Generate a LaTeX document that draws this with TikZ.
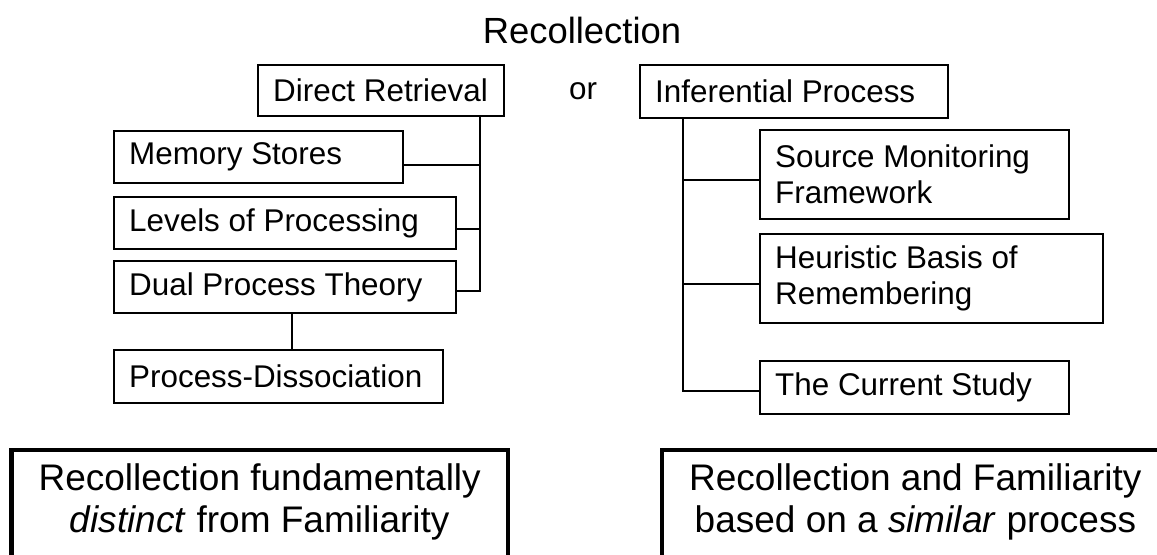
\documentclass[tikz,border=0pt]{standalone}
\usepackage{fontspec}
\setmainfont{Liberation Sans}
\newcommand\boxfont{\fontsize{15.7}{18}\selectfont\hyphenpenalty=10000\relax}
\tikzset{
  box/.style={draw, line width=1.2pt, anchor=north west, align=flush left, inner xsep=7.5pt, inner ysep=0pt, font=\boxfont},
  bigbox/.style={draw, line width=2.2pt, align=center, inner xsep=13.5pt, inner ysep=6.5pt, text depth=12pt, font=\fontsize{18.5}{21}\selectfont},
  link/.style={line width=1pt}
}
\begin{document}
\begin{tikzpicture}[x=0.5pt, y=-0.5pt]
\useasboundingbox (0,0) rectangle (1157,554);
\node[font=\fontsize{18.2}{21}\selectfont] (title) at (582,30) {Recollection};
\node[box, text width=108pt, minimum height=25.5pt] (dr) at (257,64) {Direct Retrieval};
\node[font=\boxfont] (or) at (583,91) {or};
\node[box, text width=139pt, minimum height=26.5pt] (ip) at (639,64) {Inferential Process};
% left column
\node[box, text width=129.5pt, minimum height=26pt] (ms) at (113,130) {Memory Stores};
\node[box, text width=156pt, minimum height=26pt] (lp) at (113,196) {Levels of Processing};
\node[box, text width=156pt, minimum height=26pt] (dp) at (113,260) {Dual Process Theory};
\node[box, text width=149.5pt, minimum height=26.5pt] (pd) at (113,349) {Process-Dissociation};
% right column
\node[box, text width=139.5pt, minimum height=44.5pt] (sm) at (759,129) {Source Monitoring\\Framework};
\node[box, text width=156.5pt, minimum height=44.5pt] (hb) at (759,233) {Heuristic Basis of\\Remembering};
\node[box, text width=139.5pt, minimum height=26.5pt] (cs) at (759,360) {The Current Study};
% conclusions
\node[bigbox, anchor=north east] (distinct) at (510,448) {Recollection fundamentally\\\textit{distinct} from Familiarity};
\node[bigbox, anchor=north west] (similar) at (660,448) {Recollection and Familiarity\\based on a \textit{similar} process};
% connectors
\coordinate (drj) at ([xshift=-12.5pt]dr.south east);
\draw[link] (drj) |- ([yshift=-2pt]dp.east);
\draw[link] ([yshift=-4pt]ms.east) -- ([yshift=-4pt]ms.east -| drj);
\draw[link] ([yshift=-3pt]lp.east) -- ([yshift=-3pt]lp.east -| drj);
\draw[link] ([xshift=3.5pt]dp.south) -- ([xshift=3.5pt]dp.south |- pd.north);
\coordinate (ipj) at ([xshift=22pt]ip.south west);
\draw[link] (ipj) |- ([yshift=-1.5pt]cs.west);
\draw[link] ([yshift=-2.5pt]sm.west) -- ([yshift=-2.5pt]sm.west -| ipj);
\draw[link] ([yshift=-2.75pt]hb.west) -- ([yshift=-2.75pt]hb.west -| ipj);
\end{tikzpicture}
\end{document}
